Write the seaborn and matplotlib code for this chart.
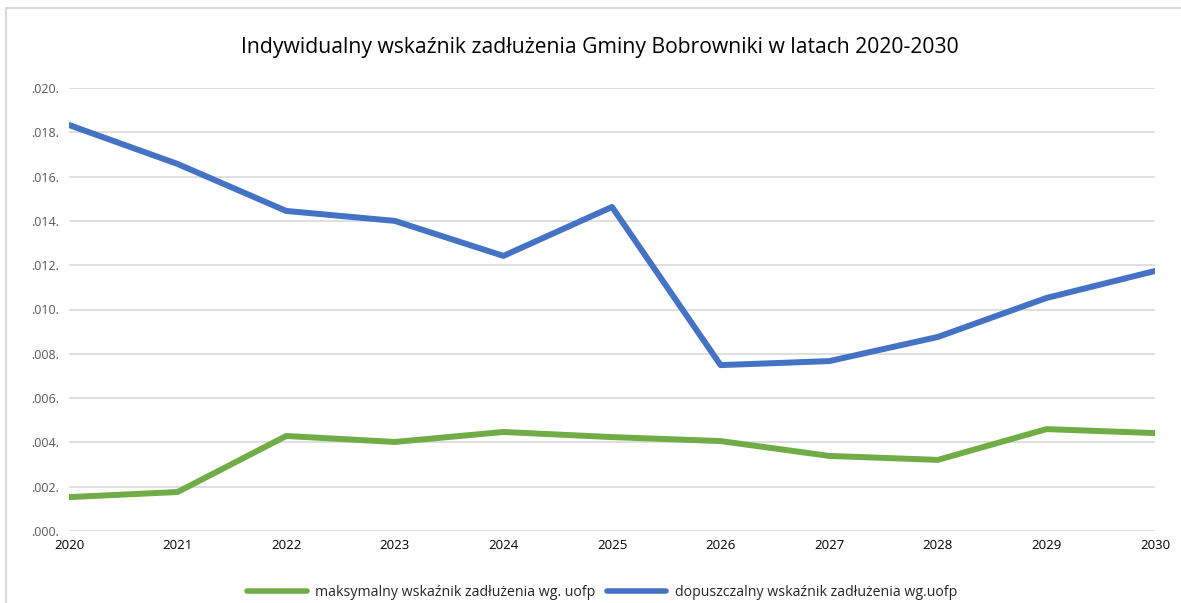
import numpy as np
import pandas as pd
import matplotlib
matplotlib.use("Agg")
import matplotlib.pyplot as plt
import seaborn as sns
from matplotlib.lines import Line2D

years = [2020, 2021, 2022, 2023, 2024, 2025, 2026, 2027, 2028, 2029, 2030]
maksymalny = [0.00153, 0.00176, 0.00429, 0.00402, 0.00447, 0.00424, 0.00406, 0.00339, 0.00321, 0.00460, 0.00442]
dopuszczalny = [0.01833, 0.01657, 0.01445, 0.01400, 0.01242, 0.01463, 0.00749, 0.00767, 0.00876, 0.01052, 0.01174]
series_names = ["maksymalny wskaźnik zadłużenia wg. uofp", "dopuszczalny wskaźnik zadłużenia wg.uofp"]
y_ticks = [0.000, 0.002, 0.004, 0.006, 0.008, 0.010, 0.012, 0.014, 0.016, 0.018, 0.020]
y_tick_labels = [".000.", ".002.", ".004.", ".006.", ".008.", ".010.", ".012.", ".014.", ".016.", ".018.", ".020."]
title = "Indywidualny wskaźnik zadłużenia Gminy Bobrowniki w latach 2020-2030"

df = pd.DataFrame({
    "rok": years * 2,
    "wartosc": maksymalny + dopuszczalny,
    "seria": [series_names[0]] * len(years) + [series_names[1]] * len(years),
})

sns.set_theme(style="white")
plt.rcParams["font.family"] = ["Open Sans", "DejaVu Sans"]

W, H = 1181, 603
fig = plt.figure(figsize=(W / 100, H / 100), dpi=100)
ax = fig.add_axes([69 / W, 1 - 531 / H, (1155 - 69) / W, (531 - 88) / H])

palette = {series_names[0]: "#70AD47", series_names[1]: "#4472C4"}
sns.lineplot(data=df, x="rok", y="wartosc", hue="seria", hue_order=series_names,
             palette=palette, linewidth=4.3, ax=ax, legend=False, zorder=3)

ax.set_xlim(years[0], years[-1])
ax.set_ylim(0, 0.020)
ax.set_yticks(y_ticks)
ax.set_yticklabels(y_tick_labels)
ax.set_xticks(years)
ax.set_xticklabels([str(y) for y in years])
ax.set_xlabel("")
ax.set_ylabel("")
ax.grid(axis="y", color="#D9D9D9", linewidth=1.2, zorder=0)
ax.grid(axis="x", visible=False)
for s in ax.spines.values():
    s.set_visible(False)
ax.tick_params(axis="y", length=0, pad=7, labelsize=9, labelcolor="#595959")
ax.tick_params(axis="x", length=0, pad=6, labelsize=9.5, labelcolor="#000000")

fig.text(600 / W, 1 - 47 / H, title, ha="center", va="center", fontsize=15.2, color="#000000")

handles = [Line2D([0], [0], color=palette[n], linewidth=4.0) for n in series_names]
fig.legend(handles, series_names, loc="center", bbox_to_anchor=(602 / W, 1 - 592 / H),
           ncol=2, frameon=False, fontsize=10.2, handlelength=4.2, columnspacing=0.8,
           handletextpad=0.6)

# outer chart frame
fig.add_artist(Line2D([6 / W, 1.0], [1 - 8 / H, 1 - 8 / H], transform=fig.transFigure,
                      color="#D9D9D9", linewidth=1.5))
fig.add_artist(Line2D([6 / W, 6 / W], [0.0, 1 - 8 / H], transform=fig.transFigure,
                      color="#D9D9D9", linewidth=1.5))

fig.savefig("out.png", dpi=100)
